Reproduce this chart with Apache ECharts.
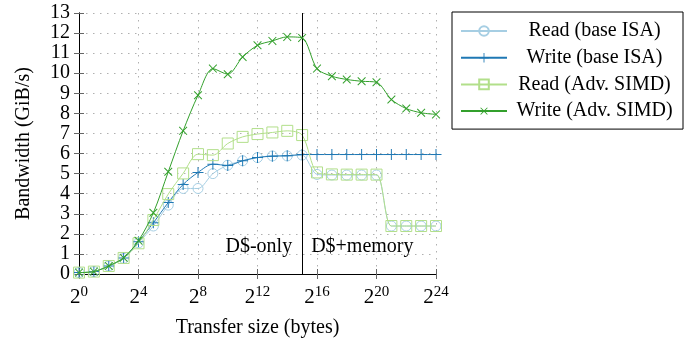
<!DOCTYPE html>
<html><head><meta charset="utf-8">
<script src="https://cdn.jsdelivr.net/npm/echarts@6/dist/echarts.min.js"></script>
<style>html,body{margin:0;padding:0;background:#fff}#c{width:686px;height:347px}</style>
</head><body><div id="c"></div>
<script>
const exps = [0,1,2,3,4,5,6,7,8,9,10,11,12,13,14,15,16,17,18,19,20,21,22,23,24];
const xTicks = [0,4,8,12,16,20,24];
const readBase  = [0.07,0.12,0.4,0.78,1.55,2.39,3.43,4.26,4.26,5.0,5.42,5.64,5.8,5.88,5.88,5.92,4.96,4.93,4.93,4.93,4.93,2.39,2.39,2.39,2.39];
const writeBase = [0.07,0.12,0.4,0.8,1.61,2.55,3.56,4.46,5.06,5.47,5.41,5.64,5.8,5.87,5.89,5.95,5.95,5.95,5.95,5.95,5.95,5.95,5.95,5.95,5.95];
const readSimd  = [0.07,0.12,0.4,0.8,1.53,2.69,3.98,5.01,5.97,5.92,6.5,6.83,6.97,7.05,7.13,6.92,5.06,4.96,4.95,4.95,4.95,2.39,2.39,2.39,2.39];
const writeSimd = [0.07,0.12,0.4,0.81,1.66,3.05,5.09,7.13,8.9,10.23,9.95,10.81,11.39,11.61,11.81,11.76,10.23,9.85,9.69,9.6,9.55,8.69,8.24,8.03,7.95];
const names = ['Read (base ISA)','Write (base ISA)','Read (Adv. SIMD)','Write (Adv. SIMD)'];
const boundaryExp = 15;
const regionLabels = ['D$-only','D$+memory'];
const regionLabelY = 1.36;

const FONT = '"Liberation Serif","DejaVu Serif",serif';
const colors = ['#a6cee3','#1f78b4','#b2df8a','#33a02c'];
const PLUS = 'path://M4.55,0H5.45V4.55H10V5.45H5.45V10H4.55V5.45H0V4.55H4.55Z';
const pair = arr => exps.map((e,i)=>[e,arr[i]]);

function mk(i, arr, symbol, size, rot, hollow, extra){
  return Object.assign({
    name: names[i], type:'line', data: pair(arr), smooth:0.3,
    symbol, symbolSize:size, symbolRotate:rot||0, showSymbol:true,
    lineStyle:{color:colors[i], width:1},
    itemStyle: hollow ? {color:'rgba(255,255,255,0)', borderColor:colors[i], borderWidth:1}
                      : {color:colors[i], borderWidth:0},
    emphasis:{disabled:true}, animation:false, z: 2+i
  }, extra||{});
}
const chart = echarts.init(document.getElementById('c'));
const axisLine = {show:true, lineStyle:{color:'#000', width:1}};
const tick = {show:true, inside:true, length:5, lineStyle:{color:'#666', width:1}};
const grid = {show:true, lineStyle:{color:'#b0b0b0', width:1, type:[1.5,5.5]}};
chart.setOption({
  animation:false,
  grid:{left:79, right:250, top:13, bottom:73},
  xAxis:[{
    type:'value', min:0, max:24, interval:4, position:'bottom',
    axisLine, axisTick:tick, splitLine:grid,
    name:'Transfer size (bytes)', nameLocation:'middle', nameGap:44,
    nameTextStyle:{fontFamily:FONT, fontSize:20, color:'#000'},
    axisLabel:{margin:11, formatter:v=>'{b|2}{s|'+v+'}',
      rich:{b:{fontFamily:FONT,fontSize:21,color:'#000'}, s:{fontFamily:FONT,fontSize:15,color:'#000',padding:[0,0,10,0]}}}
  },{
    type:'value', min:0, max:24, interval:4, position:'top',
    axisLine, axisTick:tick, axisLabel:{show:false}, splitLine:{show:false}
  }],
  yAxis:[{
    type:'value', min:0, max:13, interval:1, position:'left',
    axisLine, axisTick:tick, splitLine:grid,
    name:'Bandwidth (GiB/s)', nameLocation:'middle', nameGap:45, nameRotate:90,
    nameTextStyle:{fontFamily:FONT, fontSize:20, color:'#000'},
    axisLabel:{margin:9, fontFamily:FONT, fontSize:20, color:'#000'}
  },{
    type:'value', min:0, max:13, interval:1, position:'right',
    axisLine, axisTick:tick, axisLabel:{show:false}, splitLine:{show:false}
  }],
  legend:{
    orient:'vertical', left:452, top:12, width:230,
    padding:[9,6,8,8], itemGap:6.7, itemWidth:46, itemHeight:12,
    borderColor:'#000', borderWidth:1, backgroundColor:'#fff',
    data:names, selectedMode:false,
    formatter: n => '{c|'+n+'}',
    textStyle:{rich:{c:{width:165, align:'center', fontFamily:FONT, fontSize:20, lineHeight:22, color:'#000'}}}
  },
  series:[
    mk(0, readBase, 'circle', 10, 0, true),
    mk(1, writeBase, PLUS, 11, 0, false),
    mk(2, readSimd, 'rect', 11, 0, true),
    mk(3, writeSimd, PLUS, 11, 45, false, {
      markLine:{silent:true, symbol:'none', label:{show:false},
        lineStyle:{color:'#000', width:1, type:'solid'},
        data:[{xAxis:boundaryExp}]},
      markPoint:{silent:true, symbol:'circle', symbolSize:0,
        data:[
          {coord:[boundaryExp, regionLabelY], label:{show:true, formatter:regionLabels[0], position:'left', distance:10, fontFamily:FONT, fontSize:20, color:'#000'}},
          {coord:[boundaryExp, regionLabelY], label:{show:true, formatter:regionLabels[1], position:'right', distance:9, fontFamily:FONT, fontSize:20, color:'#000'}}
        ]}
    })
  ]
});
</script></body></html>
